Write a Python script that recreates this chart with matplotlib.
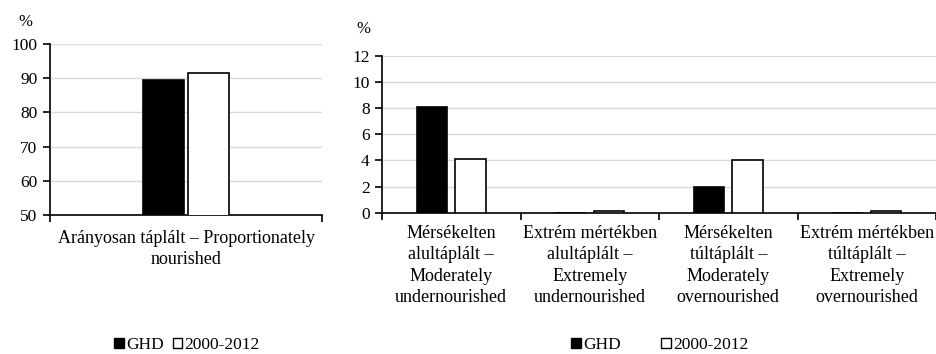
import matplotlib
matplotlib.use("Agg")
import matplotlib.pyplot as plt
from matplotlib.patches import Patch
import numpy as np

plt.rcParams['font.family'] = ['Liberation Serif', 'DejaVu Serif']
plt.rcParams['font.size'] = 12

series = ["GHD", "2000-2012"]

left_categories = ["Arányosan táplált – Proportionately\nnourished"]
left_ghd = [89.5]
left_2000 = [91.5]

right_categories = [
    "Mérsékelten\nalultáplált –\nModerately\nundernourished",
    "Extrém mértékben\nalultáplált –\nExtremely\nundernourished",
    "Mérsékelten\ntúltáplált –\nModerately\novernourished",
    "Extrém mértékben\ntúltáplált –\nExtremely\novernourished",
]
right_ghd = [8.1, 0.0, 2.0, 0.0]
right_2000 = [4.1, 0.1, 4.0, 0.1]

left_yticks = [50, 60, 70, 80, 90, 100]
right_yticks = [0, 2, 4, 6, 8, 10, 12]

W, H = 936, 354
fig = plt.figure(figsize=(W / 100, H / 100), dpi=100)

def style_axes(ax, ncat, yticks):
    ax.set_xlim(-0.5, ncat - 0.5)
    ax.set_ylim(yticks[0], yticks[-1])
    ax.set_yticks(yticks)
    ax.yaxis.grid(True, color='#d9d9d9', linewidth=1.0)
    ax.set_axisbelow(True)
    for s in ['top', 'right']:
        ax.spines[s].set_visible(False)
    for s in ['left', 'bottom']:
        ax.spines[s].set_color('black')
        ax.spines[s].set_linewidth(1.2)
    ax.set_xticks(np.arange(ncat + 1) - 0.5)
    ax.set_xticklabels([])
    ax.tick_params(axis='x', which='major', direction='out', length=5, width=1.2, color='black')
    ax.tick_params(axis='y', which='major', direction='out', length=5, width=1.2, color='black',
                   labelsize=12.5, pad=4)

# Left axes
axL = fig.add_axes([50 / W, 1 - 215 / H, 272 / W, 171 / H])
style_axes(axL, len(left_categories), left_yticks)
xl = np.arange(len(left_categories))
wl, ol = 0.15, 0.083
axL.bar(xl - ol, left_ghd, wl, color='black', edgecolor='black', linewidth=1.2, zorder=3)
axL.bar(xl + ol, left_2000, wl, color='white', edgecolor='black', linewidth=1.2, zorder=3)
axL.set_xticks(xl, minor=True)
axL.set_xticklabels(left_categories, minor=True, fontsize=13, linespacing=1.3)
axL.tick_params(axis='x', which='minor', length=0, pad=11)
fig.text(25 / W, 1 - 22 / H, "%", ha='center', va='center', fontsize=12)

# Right axes
axR = fig.add_axes([382 / W, 1 - 212.7 / H, 554 / W, 157 / H])
style_axes(axR, len(right_categories), right_yticks)
axR.spines['bottom'].set_clip_on(False)
xr = np.arange(len(right_categories))
wr, orr = 0.22, 0.14
axR.bar(xr - orr, right_ghd, wr, color='black', edgecolor='black', linewidth=1.2, zorder=3)
axR.bar(xr + orr, right_2000, wr, color='white', edgecolor='black', linewidth=1.2, zorder=3)
axR.set_xticks(xr, minor=True)
axR.set_xticklabels(right_categories, minor=True, fontsize=13, linespacing=1.32)
axR.tick_params(axis='x', which='minor', length=0, pad=9)
fig.text(363 / W, 1 - 29 / H, "%", ha='center', va='center', fontsize=12)

handles = [Patch(facecolor='black', edgecolor='black', linewidth=1.0),
           Patch(facecolor='white', edgecolor='black', linewidth=1.0)]
fig.legend(handles, series, loc='center', bbox_to_anchor=(187 / W, 1 - 345 / H),
           ncol=2, frameon=False, handlelength=0.55, handleheight=0.55, handletextpad=0.15,
           columnspacing=0.5, fontsize=12.5)
fig.legend(handles, series, loc='center', bbox_to_anchor=(660 / W, 1 - 345 / H),
           ncol=2, frameon=False, handlelength=0.55, handleheight=0.55, handletextpad=0.15,
           columnspacing=2.3, fontsize=12.5)

fig.savefig("out.png", dpi=100)
